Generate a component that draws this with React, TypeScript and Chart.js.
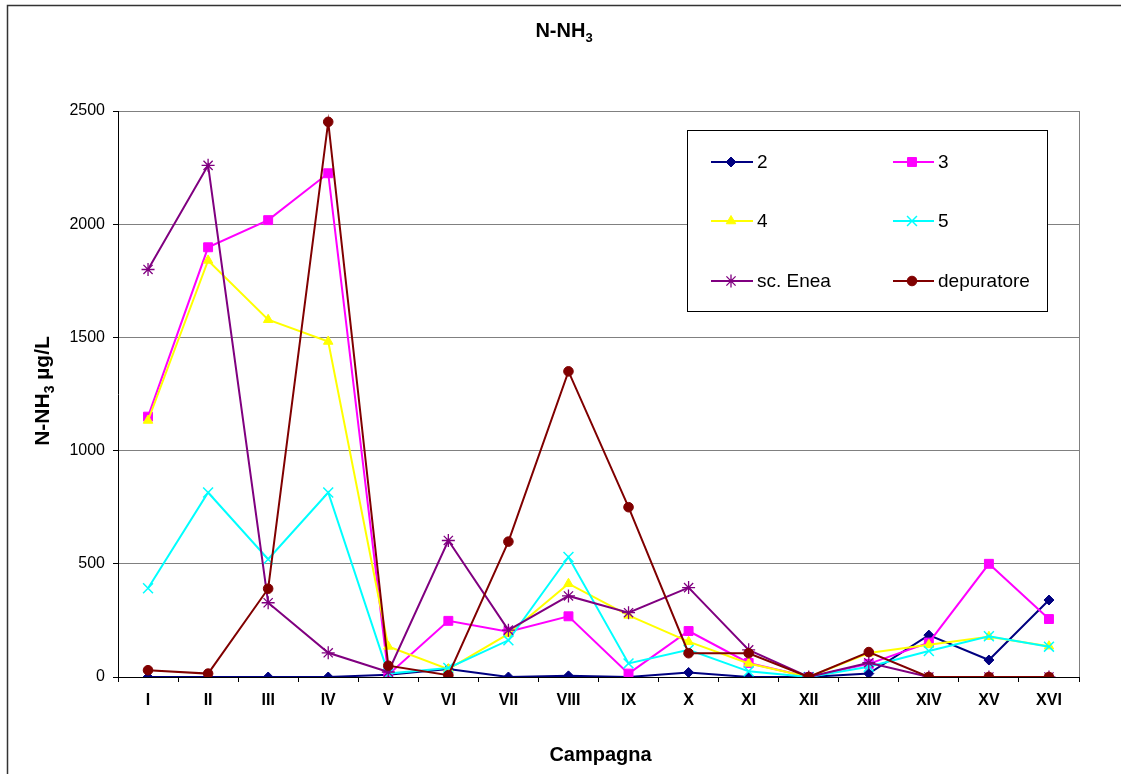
import React, { useEffect, useRef } from "react";
import { Chart, registerables } from "chart.js";
import { drawPoint } from "chart.js/helpers";

Chart.register(...registerables);

const categories = ["I", "II", "III", "IV", "V", "VI", "VII", "VIII", "IX", "X", "XI", "XII", "XIII", "XIV", "XV", "XVI"];
const seriesNames = ["2", "3", "4", "5", "sc. Enea", "depuratore"];
const s2 = [0, 0, 0, 0, 10, 35, 0, 5, 0, 20, 0, 0, 15, 185, 75, 340];
const s3 = [1150, 1898, 2018, 2225, 10, 248, 200, 268, 15, 203, 62, 0, 58, 152, 500, 256];
const s4 = [1133, 1840, 1578, 1482, 135, 35, 190, 412, 272, 156, 60, 0, 106, 142, 178, 136];
const s5 = [392, 815, 520, 815, 15, 40, 162, 530, 60, 120, 25, 0, 45, 115, 180, 134];
const sEnea = [1800, 2260, 328, 107, 22, 603, 207, 358, 284, 395, 120, 0, 63, 0, 0, 0];
const sDep = [30, 15, 390, 2452, 50, 8, 598, 1350, 750, 105, 105, 0, 110, 0, 0, 0];
const yMin = 0;
const yMax = 2500;
const yStep = 500;

const FONT = "'Liberation Sans', Arial, Helvetica, sans-serif";

const styles = [
  { color: "#000080", pointStyle: "rectRot", radius: 5, bw: 1, fill: true },
  { color: "#FF00FF", pointStyle: "rect", radius: 6.3, bw: 1, fill: true },
  { color: "#FFFF00", pointStyle: "triangle", radius: 5.5, bw: 1, fill: true },
  { color: "#00FFFF", pointStyle: "crossRot", radius: 7, bw: 1.5, fill: false },
  { color: "#800080", pointStyle: "star", radius: 6.5, bw: 1.3, fill: false },
  { color: "#800000", pointStyle: "circle", radius: 4.8, bw: 1, fill: true },
];

const allSeries = [s2, s3, s4, s5, sEnea, sDep];

const decorPlugin = {
  id: "decor",
  beforeDatasetsDraw(chart: any) {
    const { ctx, chartArea } = chart;
    ctx.save();
    ctx.strokeStyle = "#808080";
    ctx.lineWidth = 1;
    ctx.beginPath();
    ctx.moveTo(Math.round(chartArea.right) + 0.5, chartArea.top);
    ctx.lineTo(Math.round(chartArea.right) + 0.5, chartArea.bottom);
    ctx.stroke();
    ctx.restore();
  },
  afterDraw(chart: any) {
    const { ctx, chartArea } = chart;
    ctx.save();
    // outer frame (left and top visible)
    ctx.strokeStyle = "#333333";
    ctx.lineWidth = 1.5;
    ctx.beginPath();
    ctx.moveTo(7.5, 780);
    ctx.lineTo(7.5, 5.5);
    ctx.lineTo(1130, 5.5);
    ctx.stroke();

    // main title with subscript
    ctx.fillStyle = "#000";
    ctx.textBaseline = "alphabetic";
    ctx.textAlign = "left";
    const mainFont = `bold 20px ${FONT}`;
    const subFont = `bold 13px ${FONT}`;
    ctx.font = mainFont;
    const wMain = ctx.measureText("N-NH").width;
    ctx.font = subFont;
    const wSub = ctx.measureText("3").width;
    const tx = 564 - (wMain + wSub) / 2;
    ctx.font = mainFont;
    ctx.fillText("N-NH", tx, 37);
    ctx.font = subFont;
    ctx.fillText("3", tx + wMain, 42);

    // y axis title (rotated)
    ctx.save();
    ctx.translate(49, 391);
    ctx.rotate(-Math.PI / 2);
    const yMainFont = `bold 21px ${FONT}`;
    const ySubFont = `bold 14px ${FONT}`;
    ctx.font = yMainFont;
    const a = ctx.measureText("N-NH").width;
    const c = ctx.measureText(" \u00b5g/L").width;
    ctx.font = ySubFont;
    const b = ctx.measureText("3").width;
    let x0 = -(a + b + c) / 2;
    ctx.font = yMainFont;
    ctx.fillText("N-NH", x0, 0);
    ctx.font = ySubFont;
    ctx.fillText("3", x0 + a, 5);
    ctx.font = yMainFont;
    ctx.fillText(" \u00b5g/L", x0 + a + b, 0);
    ctx.restore();

    // x axis title
    ctx.font = `bold 20px ${FONT}`;
    ctx.textAlign = "center";
    ctx.fillText("Campagna", (chartArea.left + chartArea.right) / 2 + 2, 761);

    // legend
    const lx = 687.5, ly = 130.5, lw = 360, lh = 181;
    ctx.fillStyle = "#fff";
    ctx.fillRect(lx, ly, lw, lh);
    ctx.strokeStyle = "#000";
    ctx.lineWidth = 1;
    ctx.strokeRect(lx, ly, lw, lh);
    const rows = [162, 221, 281];
    const cols = [{ l0: 711, l1: 753, m: 731, t: 757 }, { l0: 893, l1: 934, m: 912, t: 938 }];
    chart.data.datasets.forEach((ds: any, i: number) => {
      const col = cols[i % 2];
      const y = rows[Math.floor(i / 2)];
      const st = styles[i];
      ctx.strokeStyle = st.color;
      ctx.lineWidth = 2;
      ctx.beginPath();
      ctx.moveTo(col.l0, y);
      ctx.lineTo(col.l1, y);
      ctx.stroke();
      ctx.fillStyle = st.color;
      ctx.strokeStyle = st.color;
      ctx.lineWidth = st.bw;
      drawPoint(ctx, { pointStyle: st.pointStyle, radius: st.radius, rotation: 0, borderWidth: st.bw } as any, col.m, y);
      ctx.fillStyle = "#000";
      ctx.font = `19px ${FONT}`;
      ctx.textAlign = "left";
      ctx.textBaseline = "middle";
      ctx.fillText(ds.label, col.t, y + 1);
    });
    ctx.restore();
  },
};

export default function App() {
  const ref = useRef<HTMLCanvasElement | null>(null);
  useEffect(() => {
    if (!ref.current) return;
    const datasets = allSeries.map((data, i) => ({
      label: seriesNames[i],
      data,
      borderColor: styles[i].color,
      backgroundColor: styles[i].color,
      borderWidth: 2,
      pointStyle: styles[i].pointStyle as any,
      pointRadius: styles[i].radius,
      pointBorderWidth: styles[i].bw,
      pointBackgroundColor: styles[i].color,
      pointBorderColor: styles[i].color,
      tension: 0,
      fill: false,
      order: allSeries.length - i,
    }));
    const chart = new Chart(ref.current, {
      type: "line",
      data: { labels: categories, datasets },
      options: {
        responsive: false,
        animation: false,
        layout: { padding: { top: 111, right: 42, left: 0, bottom: 0 } },
        plugins: {
          legend: { display: false },
          title: { display: false },
          tooltip: { enabled: false },
        },
        scales: {
          x: {
            type: "category",
            offset: true,
            afterFit: (s: any) => {
              s.height = 97;
            },
            grid: {
              display: true,
              offset: true,
              drawOnChartArea: false,
              drawTicks: true,
              tickLength: 5,
              color: "#000",
            },
            border: { display: true, color: "#000", width: 1 },
            ticks: {
              color: "#000",
              font: { family: FONT, size: 16, weight: "bold" },
              padding: 9,
              autoSkip: false,
              maxRotation: 0,
            },
          },
          y: {
            min: yMin,
            max: yMax,
            afterFit: (s: any) => {
              s.width = 118;
            },
            grid: {
              color: "#808080",
              lineWidth: 1,
              drawTicks: true,
              tickLength: 5,
              tickColor: "#000",
            },
            border: { display: true, color: "#000", width: 1 },
            ticks: {
              stepSize: yStep,
              color: "#000",
              font: { family: FONT, size: 16 },
              padding: 8,
              callback: (v: any) => String(v),
            },
          },
        },
      },
      plugins: [decorPlugin],
    });
    return () => chart.destroy();
  }, []);
  return (
    <div style={{ position: "absolute", left: 0, top: 0, width: 1121, height: 774, background: "#fff" }}>
      <canvas ref={ref} width={1121} height={774} style={{ display: "block" }} />
    </div>
  );
}
